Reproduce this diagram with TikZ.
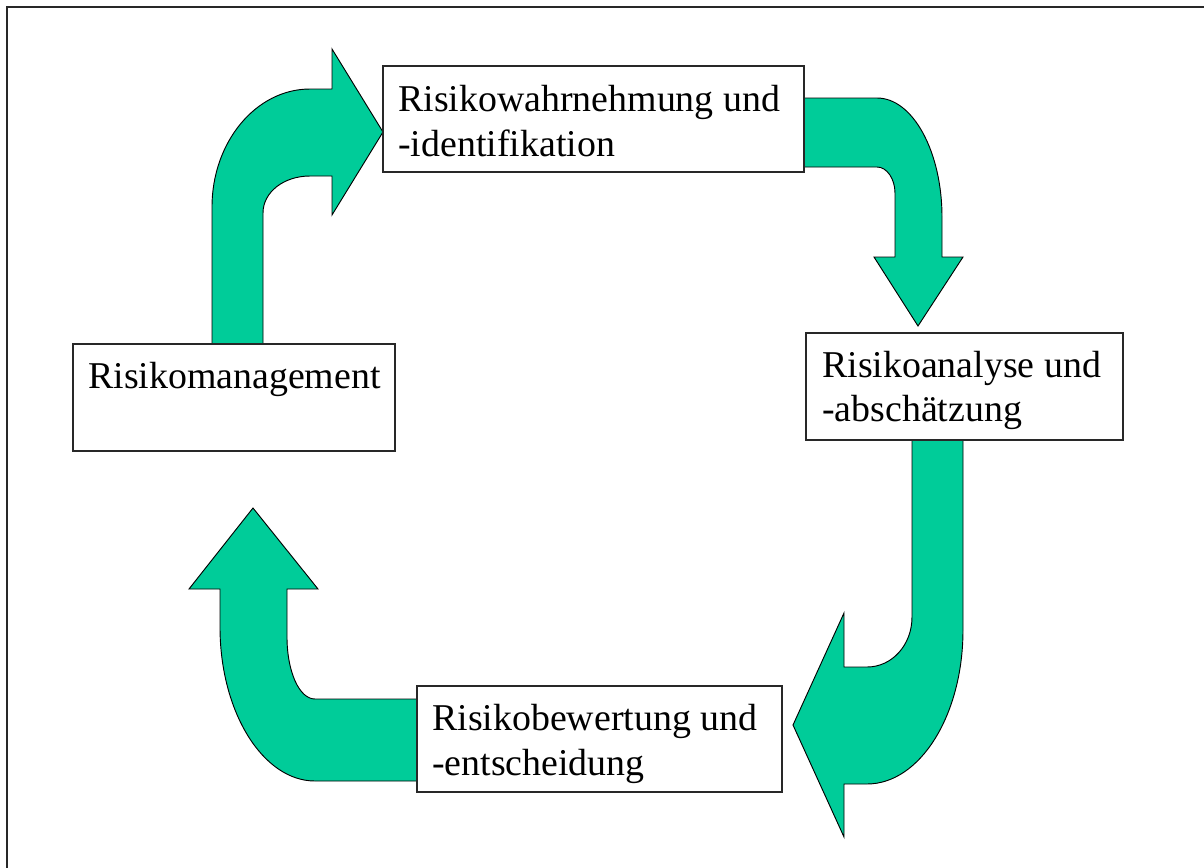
\documentclass[tikz,border=0pt]{standalone}
\usepackage{fontspec}
\setmainfont{Liberation Serif}
\usetikzlibrary{fit}
\definecolor{arrowgreen}{RGB}{0,204,153}
\definecolor{boxline}{RGB}{40,40,40}
\tikzset{
  blockarrow/.style={fill=arrowgreen, draw=black, line width=0.7pt, line join=miter},
  stagebox/.style={draw=boxline, fill=white, line width=0.9pt, inner sep=0pt},
  lbl/.style={anchor=base west, inner sep=0pt, font=\fontsize{28.4}{34}\selectfont},
}
\begin{document}
\begin{tikzpicture}[x=0.75pt, y=-0.75pt]
\useasboundingbox (0,0) rectangle (1204,868);
\fill[white] (0,0) rectangle (1204,868);
% frame (only top and left edges visible)
\draw[boxline, line width=1.4pt] (7,868) -- (7,7) -- (1204,7);

% block arrows
\draw[blockarrow] (212,344) -- (212,207)
  .. controls (212,142) and (256,89) .. (310,89)
  -- (332,89) -- (332,49) -- (383,132) -- (332,215) -- (332,176) -- (310,176)
  .. controls (284,176) and (263,192) .. (263,213)
  -- (263,344) -- cycle;

\draw[blockarrow] (804,98) -- (877,98)
  .. controls (913,98) and (942,152) .. (942,217)
  -- (942,257) -- (963,257) -- (918,326) -- (874,257) -- (895,257) -- (895,193)
  .. controls (895,179) and (887,167) .. (877,167)
  -- (804,167) -- cycle;

\draw[blockarrow] (912,440) -- (912,617)
  .. controls (912,645) and (892,667) .. (867,667)
  -- (844,667) -- (844,613) -- (793,725) -- (844,837) -- (844,784) -- (867,784)
  .. controls (920,784) and (963,715) .. (963,630)
  -- (963,440) -- cycle;

\draw[blockarrow] (417,699) -- (315,699)
  .. controls (299,699) and (287,671) .. (287,637)
  -- (287,589) -- (318,589) -- (253,508) -- (189,589) -- (220,589) -- (220,627)
  .. controls (220,712) and (263,781) .. (315,781)
  -- (417,781) -- cycle;

% boxes
\node[stagebox, fit={(383,66) (804,172)}] (wahr) {};
\node[stagebox, fit={(806,333) (1123,440)}] (analyse) {};
\node[stagebox, fit={(417,686) (782,792)}] (bewert) {};
\node[stagebox, fit={(73,344) (395,451)}] (manage) {};

% labels
\node[lbl] (wahrA) at (398,111) {Risikowahrnehmung und};
\node[lbl] (wahrB) at (398,156) {-identifikation};
\node[lbl] (analyseA) at (822,377) {Risikoanalyse und};
\node[lbl] (analyseB) at (822,421) {-abschätzung};
\node[lbl] (bewertA) at (432,730) {Risikobewertung und};
\node[lbl] (bewertB) at (432,775) {-entscheidung};
\node[lbl] (manageA) at (88,388) {Risikomanagement};
\end{tikzpicture}
\end{document}
